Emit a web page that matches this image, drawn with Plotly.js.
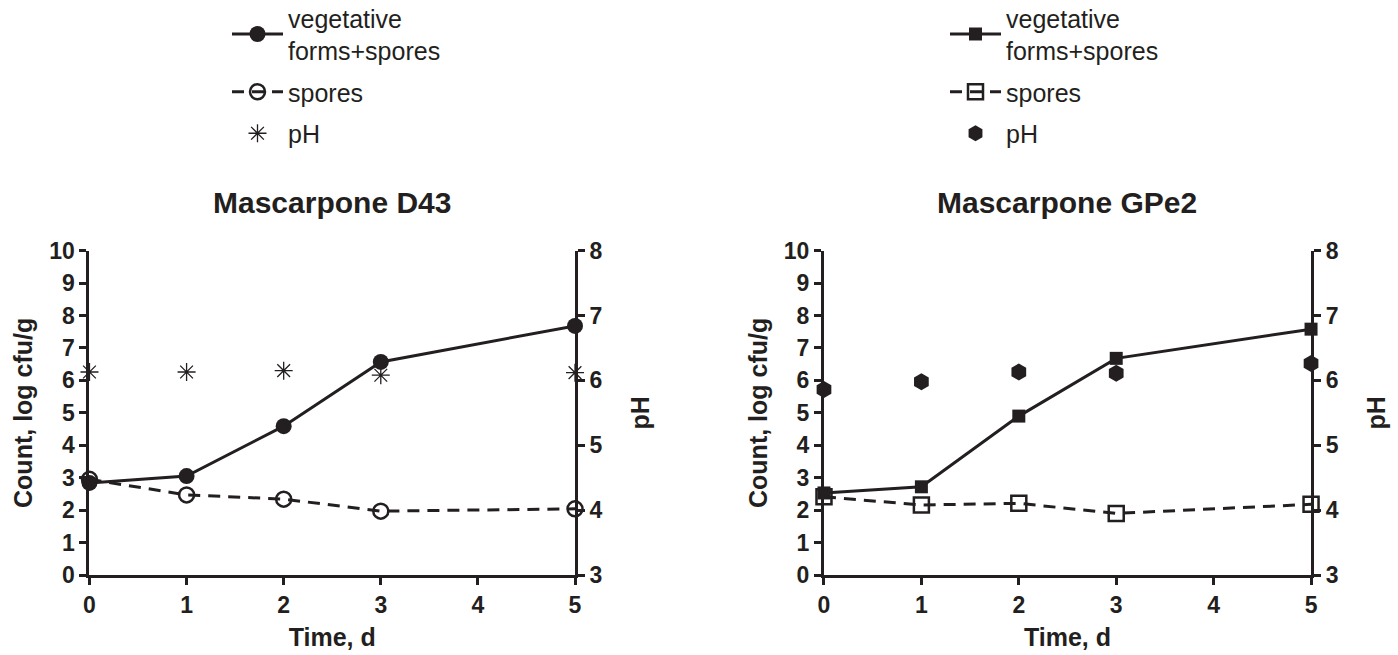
<!DOCTYPE html>
<html>
<head>
<meta charset="utf-8">
<script src="https://cdn.plot.ly/plotly-3.0.1.min.js"></script>
<style>html,body{margin:0;padding:0;background:#fff;}#chart{width:1398px;height:655px;}</style>
</head>
<body>
<div id="chart"></div>
<script>
// ---- data ----
const days = [0, 1, 2, 3, 5];
const d43Vegetative = [2.84, 3.05, 4.59, 6.57, 7.68];
const d43Spores = [2.95, 2.47, 2.34, 1.97, 2.04];
const d43PH = [6.13, 6.13, 6.15, 6.08, 6.12];
const gpe2Vegetative = [2.53, 2.72, 4.90, 6.68, 7.58];
const gpe2Spores = [2.41, 2.16, 2.21, 1.90, 2.18];
const gpe2PH = [5.86, 5.98, 6.13, 6.11, 6.26];
const panelTitles = ["Mascarpone D43", "Mascarpone GPe2"];
const seriesNames = ["vegetative<br>forms+spores", "spores", "pH"];
const countTicks = [0,1,2,3,4,5,6,7,8,9,10];
const phTicks = [3,4,5,6,7,8];
const dayTicks = [0,1,2,3,4,5];

const INK = "#231f20";
const FONT = "Liberation Sans, Arial, sans-serif";

const traces = [
  {x: days, y: d43Vegetative, name: seriesNames[0], mode: "lines+markers", xaxis: "x", yaxis: "y", legend: "legend", legendgroup: "a1",
   line: {color: INK, width: 3}, marker: {symbol: "circle", size: 16, color: INK}, cliponaxis: false},
  {x: days, y: d43Spores, name: seriesNames[1], mode: "lines+markers", xaxis: "x", yaxis: "y", legend: "legend", legendgroup: "a2",
   line: {color: INK, width: 3, dash: "12px,8px"}, marker: {symbol: "circle-open", size: 15, color: INK, line: {width: 2.5, color: INK}}, cliponaxis: false},
  {x: days, y: d43PH, name: seriesNames[2], mode: "markers", xaxis: "x", yaxis: "y2", legend: "legend", legendgroup: "a3",
   marker: {symbol: "asterisk-open", size: 15, color: INK, line: {width: 1.3, color: INK}}, cliponaxis: false},
  {x: days, y: gpe2Vegetative, name: seriesNames[0], mode: "lines+markers", xaxis: "x2", yaxis: "y3", legend: "legend2", legendgroup: "b1",
   line: {color: INK, width: 3}, marker: {symbol: "square", size: 13, color: INK}, cliponaxis: false},
  {x: days, y: gpe2Spores, name: seriesNames[1], mode: "lines+markers", xaxis: "x2", yaxis: "y3", legend: "legend2", legendgroup: "b2",
   line: {color: INK, width: 3, dash: "12px,8px"}, marker: {symbol: "square-open", size: 15, color: INK, line: {width: 2.5, color: INK}}, cliponaxis: false},
  {x: days, y: gpe2PH, name: seriesNames[2], mode: "markers", xaxis: "x2", yaxis: "y4", legend: "legend2", legendgroup: "b3",
   marker: {symbol: "hexagon", size: 17, color: INK, line: {width: 0}}, cliponaxis: false}
];

const tickFont = {family: FONT, size: 23, color: INK, weight: 700};
const titleFont = {family: FONT, size: 25, color: INK, weight: 700};

function xAxis(domain, anchor) {
  return {domain: domain, anchor: anchor, range: [0, 5], tickvals: dayTicks, ticks: "outside", ticklen: 7, tickwidth: 3,
    tickcolor: INK, showline: true, linewidth: 3, linecolor: INK, showgrid: false, zeroline: false, tickfont: tickFont,
    title: {text: "Time, d", font: titleFont, standoff: 12}, fixedrange: true};
}
function countAxis(anchor) {
  return {domain: [0.1221, 0.6173], anchor: anchor, range: [0, 10], tickvals: countTicks, ticks: "outside", ticklen: 7, tickwidth: 3,
    tickcolor: INK, showline: true, linewidth: 3, linecolor: INK, showgrid: false, zeroline: false, tickfont: tickFont,
    title: {text: "Count, log cfu/g", font: titleFont, standoff: 10}, fixedrange: true};
}
function phAxis(anchor, over) {
  return {overlaying: over, anchor: anchor, side: "right", range: [3, 8], tickvals: phTicks, ticks: "outside", ticklen: 7, tickwidth: 3,
    tickcolor: INK, showline: true, linewidth: 3, linecolor: INK, showgrid: false, zeroline: false, tickfont: tickFont,
    title: {text: "pH", font: titleFont, standoff: 30}, fixedrange: true};
}

const legendFont = {family: FONT, size: 25, color: INK};
const layout = {
  width: 1398, height: 655,
  margin: {l: 0, r: 0, t: 0, b: 0, autoexpand: false},
  paper_bgcolor: "#fff", plot_bgcolor: "#fff",
  showlegend: true,
  xaxis: xAxis([0.0640, 0.4113], "y"),
  yaxis: countAxis("x"),
  yaxis2: phAxis("x", "y"),
  xaxis2: xAxis([0.5894, 0.9378], "y3"),
  yaxis3: countAxis("x2"),
  yaxis4: phAxis("x2", "y3"),
  legend: {x: 227/1398, y: 1 + 5/655, xanchor: "left", yanchor: "top", font: legendFont, itemwidth: 51, bgcolor: "rgba(0,0,0,0)", tracegroupgap: 6},
  legend2: {x: 945/1398, y: 1 + 5/655, xanchor: "left", yanchor: "top", font: legendFont, itemwidth: 51, bgcolor: "rgba(0,0,0,0)", tracegroupgap: 6},
  annotations: [
    {text: panelTitles[0], xref: "paper", yref: "paper", x: 332/1398, y: 1 - 202/655, xanchor: "center", yanchor: "middle",
     showarrow: false, font: {family: FONT, size: 30, color: INK, weight: 700}},
    {text: panelTitles[1], xref: "paper", yref: "paper", x: 1067/1398, y: 1 - 202/655, xanchor: "center", yanchor: "middle",
     showarrow: false, font: {family: FONT, size: 30, color: INK, weight: 700}}
  ]
};

Plotly.newPlot("chart", traces, layout, {displayModeBar: false, staticPlot: true});
</script>
</body>
</html>
